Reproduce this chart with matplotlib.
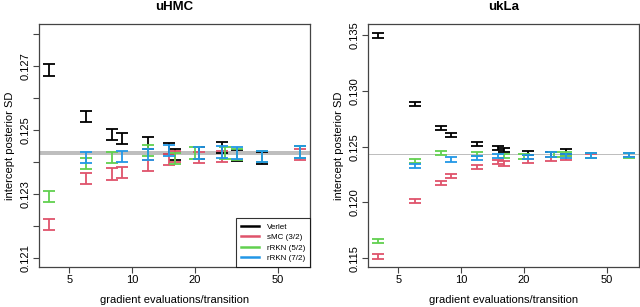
import matplotlib
matplotlib.use("Agg")
import matplotlib.pyplot as plt
from matplotlib.ticker import FixedLocator, NullLocator, FixedFormatter
from matplotlib.lines import Line2D

# ---------------- data ----------------
methods = ["Verlet", "sMC (3/2)", "rRKN (5/2)", "rRKN (7/2)"]
colors = ["#000000", "#DF536B", "#61D04F", "#2297E6"]
ref_value = 0.12427
ref_half = 0.00006

# uHMC panel
uhmc_x = {
    "Verlet":     [4, 6, 8, 9, 12, 15, 16, 21, 27, 32, 42, 64],
    "sMC (3/2)":  [4, 6, 8, 9, 12, 15, 16, 21, 27, 42, 64],
    "rRKN (5/2)": [4, 6, 8, 12, 16, 20, 28, 32, 42, 64],
    "rRKN (7/2)": [6, 9, 12, 15, 21, 27, 32, 42, 64],
}
uhmc_y = {
    "Verlet":     [0.12686, 0.12542, 0.12486, 0.12473, 0.12458, 0.12442, 0.12423, 0.12427, 0.12445, 0.12420, 0.12412, 0.12430],
    "sMC (3/2)":  [0.12205, 0.12348, 0.12362, 0.12367, 0.12388, 0.12408, 0.12417, 0.12414, 0.12417, 0.12417, 0.12423],
    "rRKN (5/2)": [0.12292, 0.12395, 0.12414, 0.12436, 0.12411, 0.12427, 0.12427, 0.12423, 0.12417, 0.12430],
    "rRKN (7/2)": [0.12414, 0.12417, 0.12423, 0.12436, 0.12427, 0.12430, 0.12427, 0.12417, 0.12430],
}
uhmc_err = 0.00018

# ukLa panel
ukla_x = {
    "Verlet":     [4, 6, 8, 9, 12, 15, 16, 21, 27, 32, 42, 64],
    "sMC (3/2)":  [4, 6, 8, 9, 12, 15, 16, 21, 27, 32, 42, 64],
    "rRKN (5/2)": [4, 6, 8, 12, 16, 20, 28, 32, 42, 64],
    "rRKN (7/2)": [6, 9, 12, 15, 21, 27, 32, 42, 64],
}
ukla_y = {
    "Verlet":     [0.13495, 0.12885, 0.12664, 0.12606, 0.12522, 0.12488, 0.12467, 0.12446, 0.12430, 0.12457, 0.12422, 0.12427],
    "sMC (3/2)":  [0.11517, 0.12016, 0.12177, 0.12240, 0.12315, 0.12364, 0.12350, 0.12373, 0.12390, 0.12397, 0.12419, 0.12423],
    "rRKN (5/2)": [0.11655, 0.12372, 0.12445, 0.12431, 0.12417, 0.12413, 0.12430, 0.12437, 0.12420, 0.12420],
    "rRKN (7/2)": [0.12330, 0.12386, 0.12401, 0.12419, 0.12409, 0.12430, 0.12419, 0.12422, 0.12425],
}
ukla_err = 0.00019

x_ticks = [5, 10, 20, 50]
uhmc_yticks = [0.121, 0.122, 0.123, 0.124, 0.125, 0.126, 0.127, 0.128]
uhmc_ylabels = ["0.121", "", "0.123", "", "0.125", "", "0.127", ""]
ukla_yticks = [0.115, 0.120, 0.125, 0.130, 0.135]
ukla_ylabels = ["0.115", "0.120", "0.125", "0.130", "0.135"]

# ---------------- figure ----------------
plt.rcParams["font.family"] = ["Liberation Sans", "DejaVu Sans"]
fig = plt.figure(figsize=(6.4, 3.07), dpi=100)
ax1 = fig.add_axes([0.0609, 0.1303, 0.4235, 0.7915])
ax2 = fig.add_axes([0.5750, 0.1303, 0.4235, 0.7915])

def draw(ax, xs, ys, err, yticks, ylabels, ylim, title):
    ax.axhspan(ref_value - ref_half, ref_value + ref_half, color="#BEBEBE", lw=0, zorder=1)
    for m, c in zip(methods, colors):
        ax.errorbar(xs[m], ys[m], yerr=err, fmt="none", ecolor=c,
                    elinewidth=1.3, capsize=4.0, capthick=1.3, zorder=2)
    ax.set_xscale("log")
    ax.set_xlim(3.58, 71.5)
    ax.set_ylim(*ylim)
    ax.xaxis.set_major_locator(FixedLocator(x_ticks))
    ax.xaxis.set_major_formatter(FixedFormatter([str(t) for t in x_ticks]))
    ax.xaxis.set_minor_locator(NullLocator())
    ax.yaxis.set_major_locator(FixedLocator(yticks))
    ax.yaxis.set_major_formatter(FixedFormatter(ylabels))
    ax.yaxis.set_minor_locator(NullLocator())
    for lab in ax.get_yticklabels():
        lab.set_rotation(90)
        lab.set_va("center")
    ax.tick_params(axis="both", labelsize=8, length=4, width=0.8, color="#444444", pad=2)
    for s in ax.spines.values():
        s.set_color("#444444")
        s.set_linewidth(0.9)
    ax.set_title(title, fontsize=9.5, fontweight="bold", pad=10)
    ax.set_xlabel("gradient evaluations/transition", fontsize=8, labelpad=7)
    ax.set_ylabel("intercept posterior SD", fontsize=8, labelpad=4)

draw(ax1, uhmc_x, uhmc_y, uhmc_err, uhmc_yticks, uhmc_ylabels, (0.12072, 0.1283), "uHMC")
draw(ax2, ukla_x, ukla_y, ukla_err, ukla_yticks, ukla_ylabels, (0.11422, 0.13599), "ukLa")

handles = [Line2D([0], [0], color=c, lw=1.8) for c in colors]
leg = ax1.legend(handles, methods, loc="lower right", fontsize=5.8, frameon=True,
                 fancybox=False, borderaxespad=0, handlelength=2.2, handletextpad=1.0,
                 labelspacing=0.35, borderpad=0.6)
leg.get_frame().set_edgecolor("#000000")
leg.get_frame().set_linewidth(0.8)

fig.savefig("out.png", dpi=100)
